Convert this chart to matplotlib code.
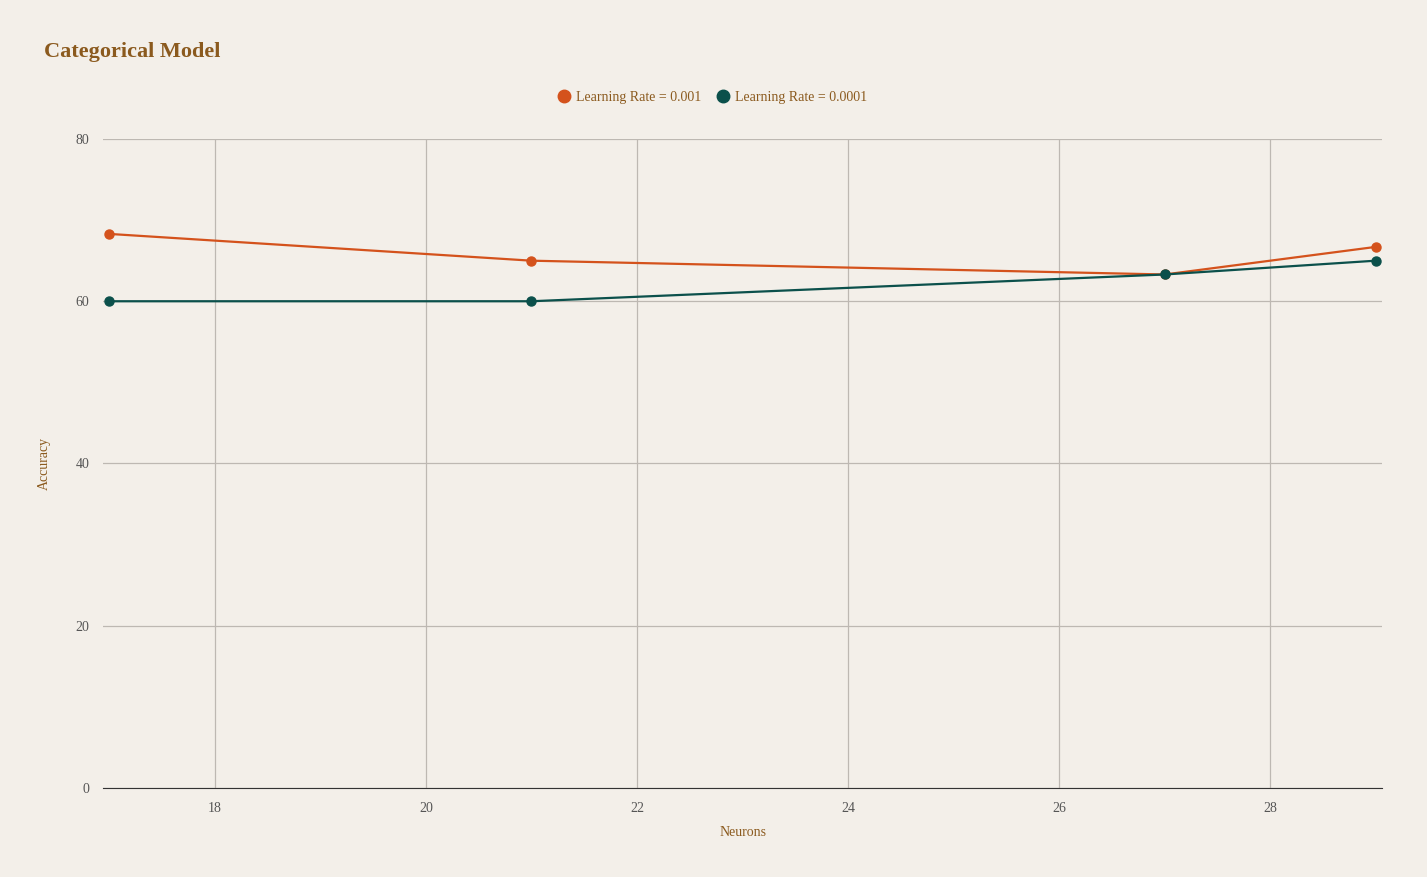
import matplotlib
matplotlib.use("Agg")
import matplotlib.pyplot as plt

neurons = [17, 21, 27, 29]
acc_lr_001 = [68.3, 65.0, 63.3, 66.7]
acc_lr_0001 = [60.0, 60.0, 63.3, 65.0]
xticks = [18, 20, 22, 24, 26, 28]
yticks = [0, 20, 40, 60, 80]

bg = "#f3efe9"
brown = "#8b5a1e"
orange = "#d4521c"
teal = "#0b504b"
plt.rcParams['font.family'] = ['Liberation Serif', 'DejaVu Serif']

fig = plt.figure(figsize=(14.27, 8.77), dpi=100, facecolor=bg)
ax = fig.add_axes([0.0722, 0.1015, 0.8963, 0.74])
ax.set_facecolor(bg)
ax.plot(neurons, acc_lr_001, color=orange, lw=1.6, marker='o', ms=6.5, label='Learning Rate = 0.001')
ax.plot(neurons, acc_lr_0001, color=teal, lw=1.6, marker='o', ms=6.5, label='Learning Rate = 0.0001')
ax.set_xlim(16.94, 29.06)
ax.set_ylim(0, 80)
ax.set_xticks(xticks)
ax.set_yticks(yticks)
ax.grid(True, color='#bdb8b2', lw=0.9)
ax.set_axisbelow(True)
for s in ['top', 'right', 'left']:
    ax.spines[s].set_visible(False)
ax.spines['bottom'].set_color('#333333')
ax.tick_params(length=0, labelsize=10, colors='#555555', pad=10)
ax.set_xlabel('Neurons', color=brown, fontsize=10, labelpad=8)
ax.set_ylabel('Accuracy', color=brown, fontsize=10, labelpad=8)
ax.yaxis.set_label_coords(-0.041, 0.5)
fig.text(0.031, 0.935, 'Categorical Model', color=brown, fontsize=16, fontweight='bold')
leg = fig.legend(loc='center', bbox_to_anchor=(0.5, 0.889), ncol=2, frameon=False,
                 fontsize=10, handlelength=0.6, handletextpad=0.6, columnspacing=1.2)
for h in leg.legend_handles:
    h.set_linestyle('')
    h.set_markersize(9)
for t in leg.get_texts():
    t.set_color(brown)
fig.savefig('out.png', dpi=100, facecolor=bg)
